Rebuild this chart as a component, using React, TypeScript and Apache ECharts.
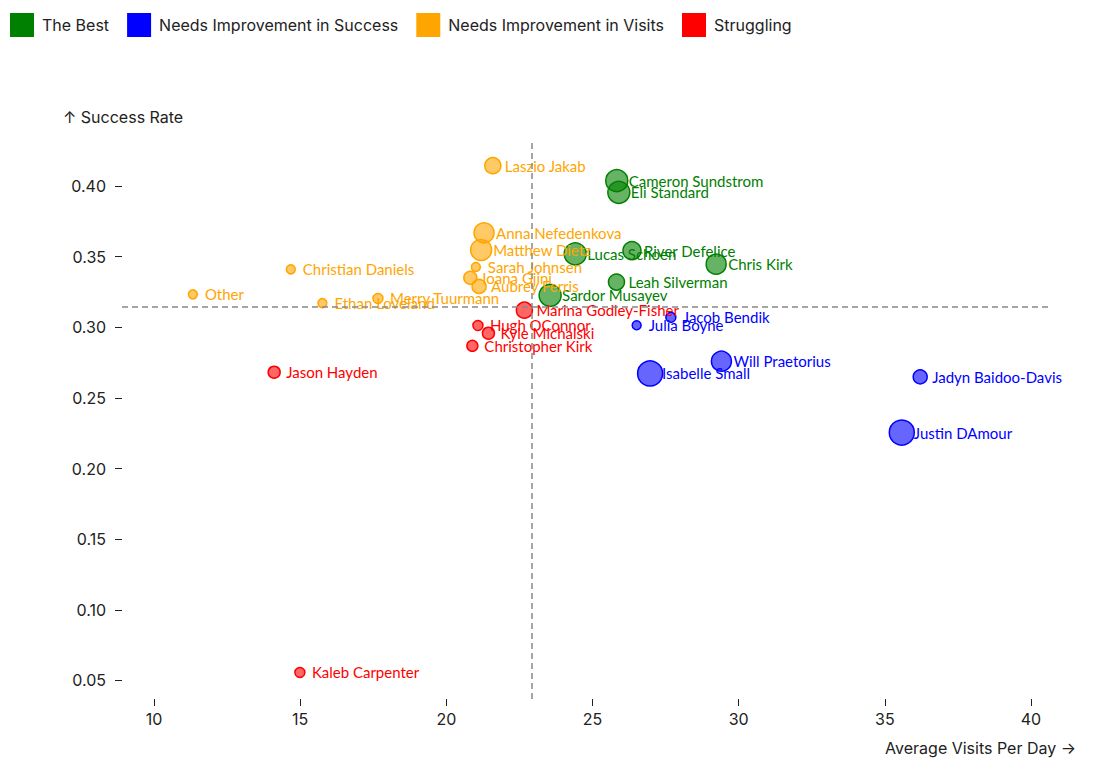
import React, { useEffect, useRef } from "react";
import * as echarts from "echarts";

// ---- data ----
const groupNames = [
  "The Best",
  "Needs Improvement in Success",
  "Needs Improvement in Visits",
  "Struggling",
];
const groupColors = ["#008000", "#0000ff", "#ffa500", "#ff0000"];

// [avg visits per day, success rate, volume, name]
const theBest: [number, number, number, string][] = [
  [25.83, 0.4038, 121, "Cameron Sundstrom"],
  [25.9, 0.3955, 121, "Eli Standard"],
  [24.41, 0.352, 121, "Lucas Schoen"],
  [26.35, 0.3542, 81, "River Defelice"],
  [29.23, 0.3447, 100, "Chris Kirk"],
  [25.82, 0.332, 64, "Leah Silverman"],
  [23.55, 0.3226, 121, "Sardor Musayev"],
];
const needsSuccess: [number, number, number, string][] = [
  [27.68, 0.307, 25, "Jacob Bendik"],
  [26.51, 0.3015, 20, "Julia Boyne"],
  [29.41, 0.276, 100, "Will Praetorius"],
  [26.97, 0.2673, 156, "Isabelle Small"],
  [36.21, 0.2649, 49, "Jadyn Baidoo-Davis"],
  [35.58, 0.2255, 156, "Justin DAmour"],
];
const needsVisits: [number, number, number, string][] = [
  [21.59, 0.4144, 64, "Laszio Jakab"],
  [21.29, 0.3669, 100, "Anna Nefedenkova"],
  [21.19, 0.3547, 110, "Matthew Dietz"],
  [21.01, 0.3426, 20, "Sarah Johnsen"],
  [20.82, 0.335, 42, "Ioana Gjini"],
  [21.12, 0.3289, 49, "Aubrey Ferris"],
  [14.68, 0.341, 20, "Christian Daniels"],
  [11.33, 0.3233, 20, "Other"],
  [15.76, 0.3171, 20, "Ethan Loveland"],
  [17.66, 0.3204, 25, "Merry Tuurmann"],
];
const struggling: [number, number, number, string][] = [
  [22.67, 0.3121, 64, "Marina Godley-Fisher"],
  [21.08, 0.3013, 25, "Hugh OConnor"],
  [21.44, 0.2958, 36, "Kyle Michalski"],
  [20.89, 0.2869, 30, "Christopher Kirk"],
  [14.11, 0.2682, 36, "Jason Hayden"],
  [14.99, 0.0557, 25, "Kaleb Carpenter"],
];
const groupData = [theBest, needsSuccess, needsVisits, struggling];

const meanVisits = 22.93;
const meanSuccess = 0.3144;

const xTicks = [10, 15, 20, 25, 30, 35, 40];
const yTicks = [0.05, 0.1, 0.15, 0.2, 0.25, 0.3, 0.35, 0.4];

const hexToRgba = (hex: string, a: number) => {
  const n = parseInt(hex.slice(1), 16);
  return `rgba(${(n >> 16) & 255},${(n >> 8) & 255},${n & 255},${a})`;
};

const UI_FONT = "Inter, 'Noto Sans', sans-serif";
const LABEL_FONT = "Lato, 'Noto Sans', sans-serif";

export default function App() {
  const ref = useRef<HTMLDivElement>(null);
  useEffect(() => {
    if (!ref.current) return;
    const chart = echarts.init(ref.current, null, { renderer: "svg" });
    const series: any[] = groupNames.map((name, i) => ({
      name,
      type: "scatter",
      data: groupData[i],
      symbol: "circle",
      symbolSize: (v: any) => 2 * Math.sqrt(v[2]),
      itemStyle: {
        color: hexToRgba(groupColors[i], 0.6),
        borderColor: groupColors[i],
        borderWidth: 1.5,
        opacity: 1,
      },
      label: {
        show: true,
        position: "inside",
        align: "left",
        verticalAlign: "middle",
        offset: [12, 0],
        formatter: (p: any) => p.data[3],
        color: groupColors[i],
        fontFamily: LABEL_FONT,
        fontSize: 15,
      },
      emphasis: { disabled: true },
      z: 3,
    }));
    series.push({
      name: "means",
      type: "scatter",
      data: [],
      markLine: {
        silent: true,
        precision: 4,
        symbol: ["none", "none"],
        label: { show: false },
        lineStyle: { color: "#888", type: [6, 4], width: 1.5 },
        data: [{ xAxis: meanVisits }, { yAxis: meanSuccess }],
      },
      z: 1,
    });

    chart.setOption({
      animation: false,
      legend: {
        left: 10,
        top: 13,
        padding: 0,
        icon: "rect",
        itemWidth: 24,
        itemHeight: 24,
        itemGap: 18,
        textStyle: {
          fontFamily: UI_FONT,
          fontSize: 16,
          color: "#222",
          padding: [0, 0, 0, 3],
        },
        data: groupNames.map((n, i) => ({
          name: n,
          itemStyle: { color: groupColors[i], borderWidth: 0 },
        })),
      },
      grid: { left: 122, right: 56, top: 140, bottom: 71, containLabel: false },
      xAxis: {
        type: "value",
        min: 8.905,
        max: 40.65,
        axisLine: { show: false },
        splitLine: { show: false },
        axisTick: {
          show: true,
          length: 7,
          customValues: xTicks,
          lineStyle: { color: "#222", width: 1 },
        },
        axisLabel: {
          customValues: xTicks,
          fontFamily: UI_FONT,
          fontSize: 16,
          color: "#222",
          margin: 12,
        },
      },
      yAxis: {
        type: "value",
        min: 0.0369,
        max: 0.43256,
        axisLine: { show: false },
        splitLine: { show: false },
        axisTick: {
          show: true,
          length: 7,
          customValues: yTicks,
          lineStyle: { color: "#222", width: 1 },
        },
        axisLabel: {
          customValues: yTicks,
          formatter: (v: number) => v.toFixed(2),
          fontFamily: UI_FONT,
          fontSize: 16,
          color: "#222",
          margin: 16,
        },
      },
      graphic: [
        {
          type: "text",
          left: 63,
          top: 109,
          style: {
            text: "↑ Success Rate",
            fontFamily: UI_FONT,
            fontSize: 16,
            fill: "#222",
          },
        },
        {
          type: "text",
          right: 30,
          top: 740,
          style: {
            text: "Average Visits Per Day →",
            fontFamily: UI_FONT,
            fontSize: 16,
            fill: "#222",
          },
        },
      ],
      series,
    });
    return () => chart.dispose();
  }, []);
  return (
    <div
      ref={ref}
      style={{ position: "fixed", left: 0, top: 0, width: 1106, height: 770, background: "#fff" }}
    />
  );
}
